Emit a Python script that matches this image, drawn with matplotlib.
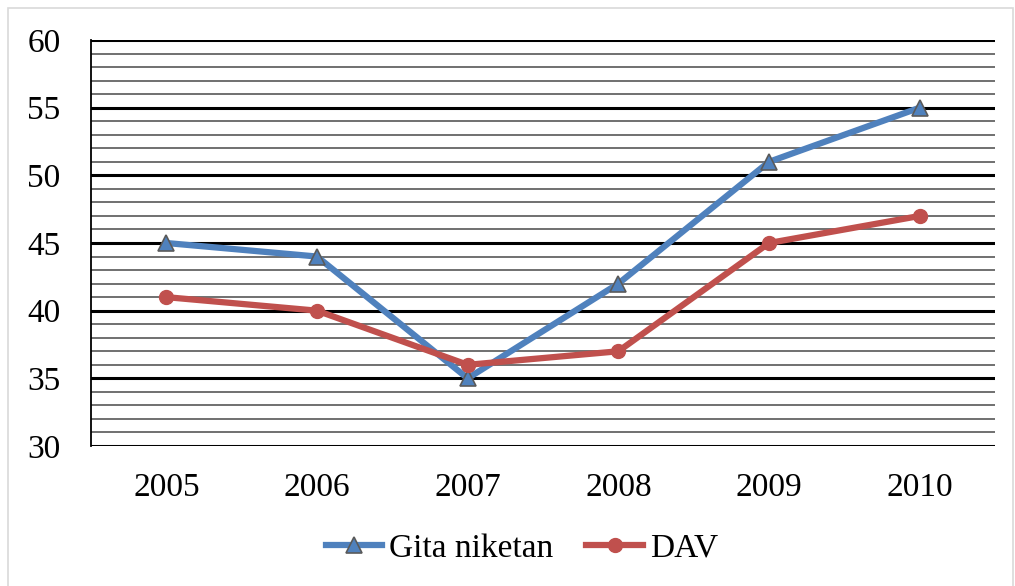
import matplotlib.pyplot as plt
from matplotlib.patches import Rectangle

years = ['2005', '2006', '2007', '2008', '2009', '2010']
gita = [45, 44, 35, 42, 51, 55]
dav = [41, 40, 36, 37, 45, 47]

plt.rcParams['font.family'] = ['Liberation Serif', 'DejaVu Serif']

fig = plt.figure(figsize=(10.15, 5.86), dpi=100)
ax = fig.add_axes([0.0897, 0.2389, 0.8906, 0.6928])

# outer chart frame
fig.patches.append(Rectangle((0.008, -0.01), 0.99, 0.996, transform=fig.transFigure,
                             fill=False, edgecolor='#d9d9d9', linewidth=1.2))

x = list(range(len(years)))

# minor gridlines every 1, major every 5
for v in range(30, 61):
    if v % 5 == 0:
        ax.axhline(v, color='black', linewidth=2.2, zorder=1)
    else:
        ax.axhline(v, color='#707070', linewidth=1.4, zorder=1)

ax.plot(x, gita, color='#4f81bd', linewidth=4.5, marker='^', markersize=11,
        markerfacecolor='#4f81bd', markeredgecolor='#5a5a5a', markeredgewidth=1.2,
        label='Gita niketan', zorder=3)
ax.plot(x, dav, color='#c0504d', linewidth=4.5, marker='o', markersize=10,
        markerfacecolor='#c0504d', markeredgecolor='#c0504d',
        label='DAV', zorder=3)

ax.set_xlim(-0.5, len(years) - 0.5)
ax.set_ylim(30, 60)
ax.set_yticks(range(30, 61, 5))
ax.set_xticks(x)
ax.set_xticklabels(years)
ax.tick_params(axis='both', length=0, labelsize=24, colors='black')
ax.tick_params(axis='x', pad=19)
ax.tick_params(axis='y', pad=22)

for s in ['top', 'right', 'bottom']:
    ax.spines[s].set_visible(False)
ax.spines['left'].set_color('black')
ax.spines['left'].set_linewidth(1.3)

leg = fig.legend(loc='center', bbox_to_anchor=(0.514, 0.064), ncol=2, frameon=False,
                 fontsize=24, handlelength=1.7, handletextpad=0.2, columnspacing=1.0)

fig.savefig('out.png', dpi=100)
